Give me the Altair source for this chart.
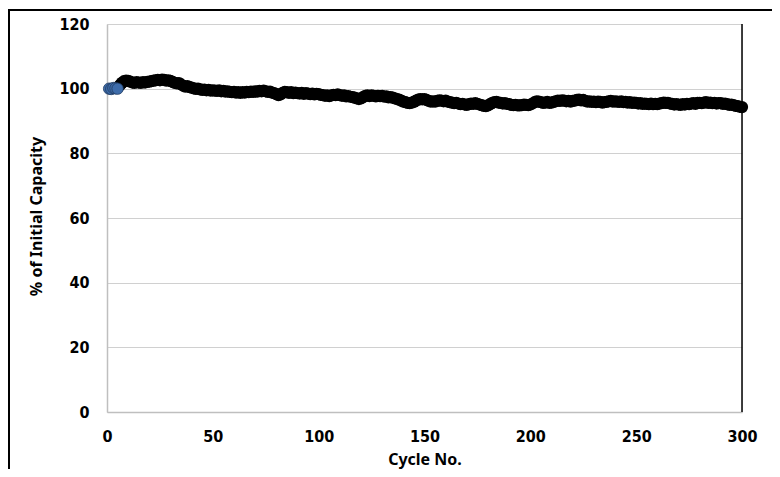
import altair as alt
import pandas as pd

# Blue series (first cycles)
blue_cycles = [1, 2, 3, 4, 5]
blue_values = [100.0, 99.9, 100.2, 100.1, 100.0]

# Black series (cycles 6-300)
black_values = [
    101.0, 101.8, 102.3, 102.5, 102.4,
    102.2, 101.9, 101.8, 102.0, 101.9, 101.8, 102.0, 101.9, 102.1, 102.2,
    102.3, 102.5, 102.6, 102.7, 102.6, 102.8, 102.7, 102.5, 102.6, 102.4,
    102.1, 101.8, 101.6, 101.7, 101.3, 100.9, 100.6, 100.8, 100.5, 100.3,
    100.1, 99.9, 100.0, 99.8, 99.6, 99.7, 99.5, 99.6, 99.4, 99.5,
    99.4, 99.3, 99.5, 99.2, 99.3, 99.1, 99.2, 99.0, 98.9, 99.0,
    98.8, 98.9, 98.7, 98.9, 98.8, 99.0, 98.9, 99.1, 99.0, 99.2,
    99.1, 99.3, 99.2, 99.4, 99.2, 99.0, 99.1, 98.8, 98.6, 98.3,
    98.0, 98.2, 98.7, 99.0, 98.9, 98.7, 98.9, 98.6, 98.8, 98.6,
    98.5, 98.7, 98.4, 98.6, 98.5, 98.3, 98.5, 98.2, 98.4, 98.3,
    98.1, 98.0, 97.8, 97.9, 97.7, 97.9, 98.1, 98.0, 98.2, 98.0,
    97.8, 97.9, 97.6, 97.7, 97.5, 97.4, 97.2, 97.0, 96.8, 97.0,
    97.4, 97.8, 97.9, 97.7, 97.9, 97.8, 97.6, 97.8, 97.7, 97.8,
    97.5, 97.6, 97.3, 97.4, 97.2, 97.0, 96.8, 96.6, 96.3, 96.0,
    95.8, 95.6, 95.5, 95.7, 95.9, 96.3, 96.6, 96.8, 96.7, 96.8,
    96.5, 96.2, 96.0, 96.1, 96.0, 96.2, 96.4, 96.3, 96.1, 96.3,
    96.0, 95.8, 95.7, 95.5, 95.6, 95.4, 95.2, 95.3, 95.1, 95.0,
    95.2, 95.4, 95.3, 95.5, 95.3, 95.1, 94.9, 94.7, 94.6, 94.8,
    95.2, 95.6, 95.8, 95.9, 95.7, 95.6, 95.4, 95.5, 95.3, 95.2,
    95.0, 94.9, 95.0, 94.8, 94.8, 94.9, 95.1, 95.0, 94.9, 95.1,
    95.4, 95.8, 96.1, 96.0, 95.8, 95.6, 95.7, 95.9, 95.6, 95.7,
    95.9, 96.1, 96.3, 96.2, 96.4, 96.3, 96.1, 96.2, 96.0, 96.2,
    96.3, 96.5, 96.6, 96.4, 96.5, 96.2, 96.0, 96.1, 95.9, 96.0,
    95.8, 96.0, 95.9, 95.7, 95.8, 95.9, 96.1, 96.2, 96.0, 96.1,
    96.0, 95.9, 96.1, 95.8, 95.9, 95.7, 95.8, 95.6, 95.7, 95.6,
    95.4, 95.5, 95.3, 95.4, 95.3, 95.2, 95.4, 95.2, 95.3, 95.2,
    95.4, 95.5, 95.7, 95.6, 95.6, 95.4, 95.3, 95.1, 95.2, 95.1,
    95.0, 95.2, 95.1, 95.3, 95.2, 95.4, 95.5, 95.3, 95.6, 95.6,
    95.5, 95.7, 95.8, 95.6, 95.7, 95.5, 95.6, 95.4, 95.5, 95.5,
    95.3, 95.4, 95.2, 95.0, 95.1, 94.9, 94.7, 94.6, 94.4, 94.3,
]
black_cycles = list(range(6, 6 + len(black_values)))

x_ticks = [0, 50, 100, 150, 200, 250, 300]
y_ticks = [0, 20, 40, 60, 80, 100, 120]

black_df = pd.DataFrame({"cycle": black_cycles, "cap": black_values})
blue_df = pd.DataFrame({"cycle": blue_cycles, "cap": blue_values})

FONT_TICK = "DejaVu Sans Condensed, Liberation Sans"
FONT_TITLE = "Noto Sans"

x_enc = alt.X(
    "cycle:Q",
    scale=alt.Scale(domain=[0, 300], nice=False),
    axis=alt.Axis(
        values=x_ticks, title="Cycle No.", grid=False, ticks=False,
        domainColor="#BFBFBF", domainWidth=1.5, labelFlush=False,
        labelFont=FONT_TICK, labelFontSize=16, labelFontWeight="bold",
        labelColor="#000000", labelPadding=16,
        titleFont=FONT_TITLE, titleFontSize=16, titleFontWeight="bold",
        titleColor="#000000", titleY=47, titleBaseline="middle",
    ),
)
y_enc = alt.Y(
    "cap:Q",
    scale=alt.Scale(domain=[0, 120], nice=False),
    axis=alt.Axis(
        values=y_ticks, title="% of Initial Capacity", grid=True,
        gridColor="#D0D0D0", gridWidth=1, ticks=False,
        domainColor="#BFBFBF", domainWidth=1.5, labelFlush=False,
        labelFont=FONT_TICK, labelFontSize=16, labelFontWeight="bold",
        labelColor="#000000", labelPadding=18,
        titleFont=FONT_TITLE, titleFontSize=16, titleFontWeight="bold",
        titleColor="#000000", titleAngle=-90, titleX=-71, titleY=192,
        titleAlign="center", titleBaseline="middle",
    ),
)

black = alt.Chart(black_df).mark_circle(
    size=150, color="#000000", opacity=1
).encode(x=x_enc, y=y_enc)

blue = alt.Chart(blue_df).mark_point(
    size=130, filled=True, fill="#3E6CAA", stroke="#1F3A60", strokeWidth=0.8, opacity=1
).encode(x="cycle:Q", y="cap:Q")

right_edge = alt.Chart(pd.DataFrame({"c": [300]})).mark_rule(
    color="#000000", strokeWidth=1.5
).encode(x="c:Q", y=alt.value(0), y2=alt.value(388))

frame = alt.Chart(pd.DataFrame({"a": [0]})).mark_rect(
    fill=None, stroke="#000000", strokeWidth=2
).encode(x=alt.value(-98), x2=alt.value(900), y=alt.value(-14), y2=alt.value(900))

chart = alt.layer(frame, right_edge, black, blue).properties(
    width=635, height=388,
    autosize=alt.AutoSizeParams(type="none"),
    padding={"left": 99, "top": 16, "right": 30, "bottom": 57},
).configure_view(stroke=None).configure(background="white")

chart.save("out.html", embed_options={"renderer": "svg", "actions": False})
